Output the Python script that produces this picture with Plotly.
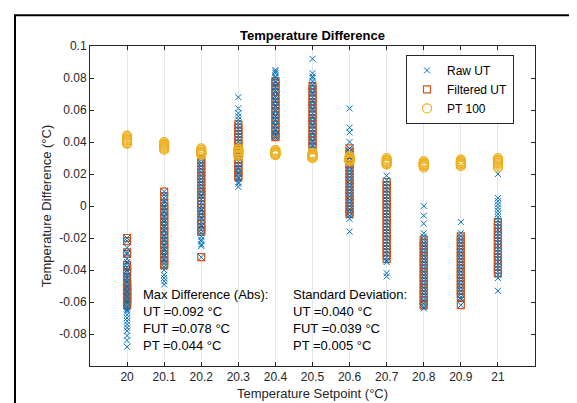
import plotly.graph_objects as go

setpoints = [20.0, 20.1, 20.2, 20.3, 20.4, 20.5, 20.6, 20.7, 20.8, 20.9, 21.0]
tick_labels = ["20", "20.1", "20.2", "20.3", "20.4", "20.5", "20.6", "20.7", "20.8", "20.9", "21"]

raw_ut_values = [
    [-0.020, -0.022, -0.026, -0.029, -0.030, -0.033, -0.035, -0.036, -0.038, -0.040, -0.041, -0.043, -0.044,
     -0.045, -0.047, -0.048, -0.050, -0.051, -0.053, -0.054, -0.056, -0.057, -0.059, -0.060, -0.061, -0.063,
     -0.064, -0.065, -0.066, -0.068, -0.070, -0.072, -0.074, -0.076, -0.078, -0.081, -0.084, -0.088],
    [0.009, 0.007, 0.005, 0.003, 0.002, 0.000, -0.001, -0.003, -0.004, -0.006, -0.007, -0.009, -0.010, -0.012,
     -0.013, -0.015, -0.016, -0.018, -0.019, -0.021, -0.022, -0.024, -0.025, -0.027, -0.028, -0.030, -0.031,
     -0.033, -0.034, -0.036, -0.038, -0.040, -0.043, -0.045, -0.047, -0.049],
    [0.031, 0.029, 0.027, 0.025, 0.023, 0.021, 0.019, 0.017, 0.015, 0.013, 0.011, 0.009, 0.007, 0.006, 0.004,
     0.002, 0.000, -0.002, -0.003, -0.005, -0.007, -0.008, -0.010, -0.012, -0.013, -0.015, -0.017, -0.019,
     -0.021, -0.022, -0.024, -0.025, -0.032],
    [0.068, 0.061, 0.058, 0.056, 0.054, 0.052, 0.050, 0.048, 0.046, 0.044, 0.042, 0.040, 0.038, 0.036, 0.034,
     0.032, 0.030, 0.028, 0.026, 0.024, 0.023, 0.021, 0.020, 0.018, 0.017, 0.015, 0.014, 0.012],
    [0.085, 0.084, 0.083, 0.081, 0.080, 0.078, 0.077, 0.075, 0.074, 0.072, 0.071, 0.069, 0.068, 0.066, 0.065,
     0.063, 0.062, 0.060, 0.059, 0.057, 0.056, 0.054, 0.053, 0.051, 0.050, 0.048, 0.047, 0.045, 0.044, 0.043],
    [0.092, 0.083, 0.081, 0.080, 0.078, 0.076, 0.075, 0.073, 0.071, 0.070, 0.068, 0.066, 0.065, 0.063, 0.061,
     0.060, 0.058, 0.056, 0.055, 0.053, 0.051, 0.050, 0.048, 0.046, 0.045, 0.043, 0.041, 0.040, 0.038, 0.037],
    [0.061, 0.049, 0.046, 0.040, 0.036, 0.034, 0.032, 0.030, 0.028, 0.026, 0.024, 0.022, 0.020, 0.018, 0.016,
     0.014, 0.012, 0.010, 0.008, 0.006, 0.004, 0.002, 0.000, -0.002, -0.004, -0.006, -0.008, -0.016],
    [0.019, 0.016, 0.014, 0.012, 0.010, 0.008, 0.006, 0.004, 0.002, 0.000, -0.002, -0.004, -0.006, -0.008,
     -0.010, -0.012, -0.014, -0.016, -0.018, -0.020, -0.022, -0.024, -0.026, -0.028, -0.030, -0.032, -0.034,
     -0.035, -0.042, -0.044],
    [0.000, -0.006, -0.011, -0.017, -0.019, -0.021, -0.023, -0.025, -0.027, -0.029, -0.031, -0.033, -0.035,
     -0.037, -0.039, -0.041, -0.043, -0.045, -0.047, -0.049, -0.051, -0.053, -0.055, -0.057, -0.059, -0.061,
     -0.063, -0.064],
    [-0.010, -0.017, -0.019, -0.021, -0.023, -0.025, -0.027, -0.029, -0.031, -0.033, -0.035, -0.037, -0.039,
     -0.041, -0.043, -0.045, -0.047, -0.049, -0.051, -0.053, -0.055, -0.057, -0.058, -0.062],
    [0.020, 0.005, 0.003, 0.001, -0.001, -0.003, -0.005, -0.007, -0.009, -0.011, -0.013, -0.015, -0.017,
     -0.019, -0.021, -0.023, -0.025, -0.027, -0.029, -0.031, -0.033, -0.035, -0.037, -0.039, -0.041, -0.043,
     -0.045, -0.053],
]

filtered_ut_values = [
    [-0.020, -0.022, -0.029, -0.030, -0.037, -0.038, -0.040, -0.042, -0.045, -0.048, -0.049, -0.050, -0.051,
     -0.052, -0.053, -0.054, -0.055, -0.056, -0.057, -0.058, -0.059, -0.060, -0.061, -0.062],
    [0.009, 0.006, 0.002, 0.000, -0.002, -0.004, -0.006, -0.008, -0.010, -0.012, -0.014, -0.016, -0.018,
     -0.020, -0.022, -0.024, -0.026, -0.028, -0.030, -0.032, -0.034, -0.036, -0.037],
    [0.029, 0.027, 0.025, 0.023, 0.021, 0.019, 0.017, 0.015, 0.013, 0.011, 0.009, 0.007, 0.005, 0.003, 0.001,
     -0.001, -0.003, -0.005, -0.007, -0.009, -0.011, -0.013, -0.015, -0.016, -0.032],
    [0.051, 0.049, 0.047, 0.045, 0.043, 0.041, 0.039, 0.037, 0.035, 0.033, 0.031, 0.029, 0.027, 0.025, 0.023,
     0.021, 0.019, 0.018],
    [0.078, 0.077, 0.075, 0.073, 0.071, 0.069, 0.067, 0.065, 0.063, 0.061, 0.059, 0.057, 0.055, 0.053, 0.051,
     0.049, 0.047, 0.045, 0.044, 0.043],
    [0.075, 0.073, 0.071, 0.069, 0.067, 0.065, 0.063, 0.061, 0.059, 0.057, 0.055, 0.053, 0.051, 0.049, 0.047,
     0.045, 0.043, 0.041, 0.039, 0.037],
    [0.036, 0.034, 0.032, 0.030, 0.028, 0.026, 0.024, 0.022, 0.020, 0.018, 0.016, 0.014, 0.012, 0.010, 0.008,
     0.006, 0.004, 0.002, 0.000, -0.002, -0.004, -0.005],
    [0.015, 0.013, 0.011, 0.009, 0.007, 0.005, 0.003, 0.001, -0.001, -0.003, -0.005, -0.007, -0.009, -0.011,
     -0.013, -0.015, -0.017, -0.019, -0.021, -0.023, -0.025, -0.027, -0.029, -0.031, -0.033],
    [-0.021, -0.023, -0.025, -0.027, -0.029, -0.031, -0.033, -0.035, -0.037, -0.039, -0.041, -0.043, -0.045,
     -0.047, -0.049, -0.051, -0.053, -0.055, -0.057, -0.059, -0.061, -0.062],
    [-0.019, -0.021, -0.023, -0.025, -0.027, -0.029, -0.031, -0.033, -0.035, -0.037, -0.039, -0.041, -0.043,
     -0.045, -0.047, -0.049, -0.051, -0.053, -0.055, -0.057, -0.062],
    [-0.010, -0.012, -0.014, -0.016, -0.018, -0.020, -0.022, -0.024, -0.026, -0.028, -0.030, -0.032, -0.034,
     -0.036, -0.038, -0.040, -0.042],
]

pt100_values = [
    [0.044, 0.043, 0.042, 0.042, 0.041, 0.041, 0.040, 0.040, 0.039, 0.039],
    [0.040, 0.039, 0.039, 0.038, 0.038, 0.037, 0.037, 0.036, 0.036, 0.035],
    [0.036, 0.035, 0.035, 0.034, 0.034, 0.033, 0.033, 0.033, 0.032, 0.032],
    [0.036, 0.035, 0.035, 0.034, 0.034, 0.033, 0.033, 0.032, 0.032, 0.031],
    [0.035, 0.035, 0.034, 0.034, 0.033, 0.033, 0.033, 0.032, 0.032, 0.032],
    [0.033, 0.033, 0.032, 0.032, 0.031, 0.031, 0.031, 0.030, 0.030, 0.030],
    [0.031, 0.031, 0.030, 0.030, 0.029, 0.029, 0.029, 0.028, 0.028, 0.028],
    [0.030, 0.029, 0.029, 0.028, 0.028, 0.027, 0.027, 0.027, 0.026, 0.026],
    [0.028, 0.027, 0.027, 0.026, 0.026, 0.026, 0.025, 0.025, 0.025, 0.024],
    [0.029, 0.028, 0.028, 0.027, 0.027, 0.027, 0.026, 0.026, 0.025, 0.025],
    [0.030, 0.029, 0.029, 0.028, 0.028, 0.027, 0.027, 0.026, 0.025, 0.024],
]

y_tick_vals = [0.1, 0.08, 0.06, 0.04, 0.02, 0.0, -0.02, -0.04, -0.06, -0.08]
y_tick_labels = ["0.1", "0.08", "0.06", "0.04", "0.02", "0", "-0.02", "-0.04", "-0.06", "-0.08"]

stats_left = ["Max Difference (Abs):", "UT =0.092 \u00b0C", "FUT =0.078 \u00b0C", "PT =0.044 \u00b0C"]
stats_right = ["Standard Deviation:", "UT =0.040 \u00b0C", "FUT =0.039 \u00b0C", "PT =0.005 \u00b0C"]


def flatten(groups):
    xs, ys = [], []
    for sp, vals in zip(setpoints, groups):
        xs.extend([sp] * len(vals))
        ys.extend(vals)
    return xs, ys


FONT = "Liberation Sans, Arial, sans-serif"
BLUE = "#0072BD"
ORANGE = "#D95319"
YELLOW = "#EDB120"
AX = "#262626"

fig = go.Figure()
x, y = flatten(filtered_ut_values)
fig.add_trace(go.Scatter(x=x, y=y, mode="markers", name="Filtered UT", legendrank=2,
                         marker=dict(symbol="square-open", size=7, color=ORANGE, line=dict(width=1.2))))
x, y = flatten(raw_ut_values)
fig.add_trace(go.Scatter(x=x, y=y, mode="markers", name="Raw UT", legendrank=1,
                         marker=dict(symbol="x-thin", size=6, line=dict(color=BLUE, width=1), color=BLUE)))
x, y = flatten(pt100_values)
fig.add_trace(go.Scatter(x=x, y=y, mode="markers", name="PT 100", legendrank=3,
                         marker=dict(symbol="circle-open", size=9, color=YELLOW, line=dict(width=1.2))))

L, R, T, B = 82, 50, 38, 42
W, H = 577, 403
pw, ph = W - L - R, H - T - B

def px_x(px):
    return (px - L) / pw

def px_y(py):
    return (H - B - py) / ph

annotations = []
ys_px = [289, 306, 323, 340]
for i, (a, b) in enumerate(zip(stats_left, stats_right)):
    annotations.append(dict(x=px_x(133), y=px_y(ys_px[i]), xref="paper", yref="paper", text=a,
                            showarrow=False, xanchor="left", yanchor="middle",
                            font=dict(family=FONT, size=13, color="#000000")))
    annotations.append(dict(x=px_x(283), y=px_y(ys_px[i]), xref="paper", yref="paper", text=b,
                            showarrow=False, xanchor="left", yanchor="middle",
                            font=dict(family=FONT, size=13, color="#000000")))

fig.update_layout(
    width=W, height=H,
    margin=dict(l=L, r=R, t=T, b=B),
    paper_bgcolor="white", plot_bgcolor="white",
    font=dict(family=FONT, size=12, color=AX),
    title=dict(text="<b>Temperature Difference</b>", x=0.5, xref="paper", y=1 - 27 / H, yanchor="middle",
               xanchor="center", font=dict(family=FONT, size=13, color="#000000")),
    xaxis=dict(range=[19.9, 21.1], tickvals=setpoints, ticktext=tick_labels, ticks="inside", ticklen=4,
               tickcolor=AX, showline=True, linecolor=AX, linewidth=1, mirror="ticks",
               showgrid=True, gridcolor="#e6e6e6", gridwidth=1, zeroline=False,
               tickfont=dict(family=FONT, size=12, color=AX),
               title=dict(text="Temperature Setpoint (\u00b0C)", standoff=5,
                          font=dict(family=FONT, size=13, color=AX))),
    yaxis=dict(range=[-0.1, 0.1], tickvals=y_tick_vals, ticktext=y_tick_labels, ticks="inside", ticklen=4,
               tickcolor=AX, showline=True, linecolor=AX, linewidth=1, mirror="ticks",
               showgrid=False, zeroline=False,
               tickfont=dict(family=FONT, size=12, color=AX),
               title=dict(text="Temperature Difference (\u00b0C)", standoff=4,
                          font=dict(family=FONT, size=13, color=AX))),
    legend=dict(x=px_x(398), y=px_y(47), xanchor="left", yanchor="top", bgcolor="white",
                bordercolor=AX, borderwidth=1, font=dict(family=FONT, size=12, color="#000000"),
                tracegroupgap=0, itemwidth=30),
    annotations=annotations,
    showlegend=True,
    shapes=[dict(type="rect", xref="paper", yref="paper", x0=px_x(7), x1=px_x(620), y0=px_y(460), y1=px_y(7),
                 line=dict(color="black", width=2), fillcolor="rgba(0,0,0,0)", layer="above")],
)

fig.write_html("out.html")
